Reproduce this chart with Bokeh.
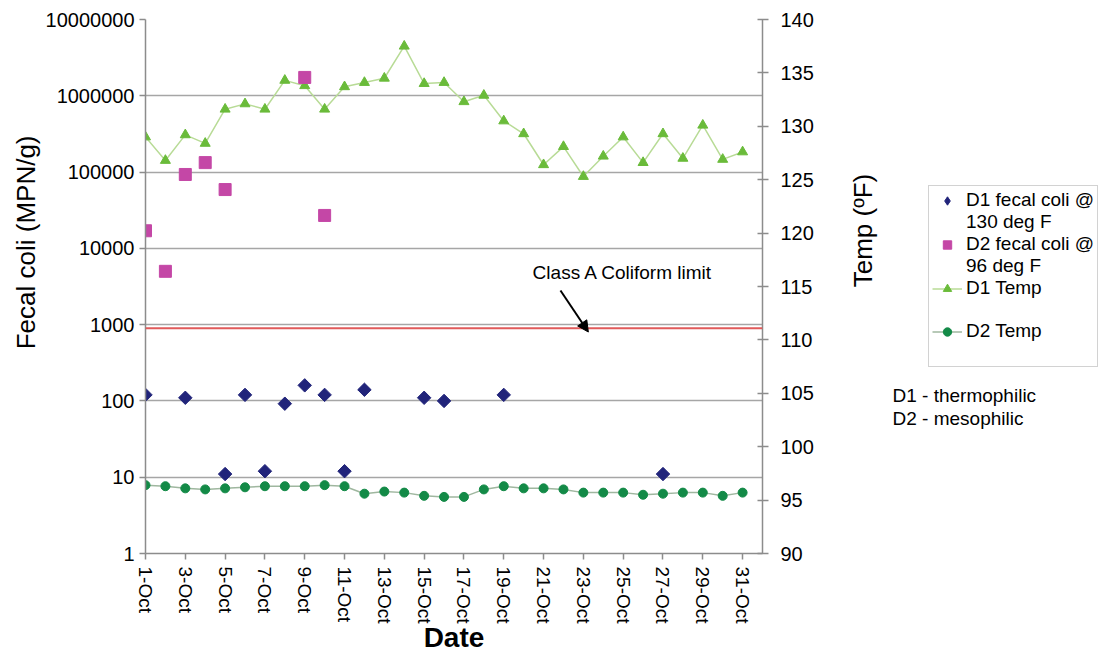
import math
from bokeh.plotting import figure
from bokeh.layouts import row
from bokeh.models import (Range1d, LinearAxis, LinearScale, FixedTicker, NumeralTickFormatter,
                          Span, Label, Arrow, NormalHead, Legend, LegendItem, Title)
from bokeh.embed import file_html
from bokeh.resources import INLINE

# ---------------- data ----------------
days = list(range(1, 32))
date_ticks = list(range(1, 32, 2))
date_labels = [f"{d}-Oct" for d in date_ticks]

d1_fecal_days = [1, 3, 5, 6, 7, 8, 9, 10, 11, 12, 15, 16, 19, 27]
d1_fecal = [120, 110, 11, 120, 12, 92, 160, 120, 12, 140, 110, 100, 120, 11]

d2_fecal_days = [1, 2, 3, 4, 5, 9, 10]
d2_fecal = [17000, 5000, 93000, 133000, 59000, 1740000, 27000]

d1_temp = [129.0, 126.8, 129.2, 128.4, 131.6, 132.1, 131.6, 134.3, 133.8, 131.6,
           133.7, 134.1, 134.5, 137.5, 134.0, 134.1, 132.3, 132.9, 130.5, 129.3,
           126.4, 128.1, 125.3, 127.2, 129.0, 126.6, 129.3, 127.0, 130.1, 126.9, 127.6]
d2_temp = [96.4, 96.3, 96.1, 96.0, 96.1, 96.2, 96.3, 96.3, 96.3, 96.4,
           96.3, 95.6, 95.8, 95.7, 95.4, 95.3, 95.3, 96.0, 96.3, 96.1,
           96.1, 96.0, 95.7, 95.7, 95.7, 95.5, 95.6, 95.7, 95.7, 95.4, 95.7]

fecal_ticks = [1, 10, 100, 1000, 10000, 100000, 1000000, 10000000]
temp_ticks = [90, 95, 100, 105, 110, 115, 120, 125, 130, 135, 140]
class_a_limit = 900

FONT = "Liberation Sans"
AX = "#8c8c8c"
C_D1F = "#21247a"
C_D2F = "#c447a6"
C_D1T_L, C_D1T_M = "#b8db96", "#6abb3a"
C_D2T_L, C_D2T_M = "#9fb79f", "#138a47"

# ---------------- main chart ----------------
p = figure(width=840, height=655, output_backend="svg", toolbar_location=None,
           x_range=Range1d(1, 32), y_range=Range1d(1, 1e7), y_axis_type="log",
           min_border_left=145, min_border_right=78, min_border_top=19,
           min_border_bottom=102)
p.outline_line_color = None
p.border_fill_color = "white"

p.extra_y_ranges = {"temp": Range1d(90, 140)}
p.extra_y_scales = {"temp": LinearScale()}

xa = p.xaxis[0]
xa.ticker = FixedTicker(ticks=date_ticks, minor_ticks=[])
xa.major_label_overrides = {t: l for t, l in zip(date_ticks, date_labels)}
xa.major_label_orientation = "vertical"
xa.axis_label = "Date"
xa.axis_label_text_font = FONT
xa.axis_label_text_font_style = "bold"
xa.axis_label_text_font_size = "28px"
xa.axis_label_text_color = "black"
xa.axis_label_standoff = -5
xa.major_label_text_font = FONT
xa.major_label_text_font_size = "19px"
xa.major_label_text_color = "black"
xa.major_label_standoff = 7

ya = p.yaxis[0]
ya.ticker = FixedTicker(ticks=fecal_ticks, minor_ticks=[])
ya.formatter = NumeralTickFormatter(format="0")
ya.major_label_text_font = FONT
ya.major_label_text_font_size = "20px"
ya.major_label_text_color = "black"
ya.major_label_standoff = 5

ra = LinearAxis(y_range_name="temp", ticker=FixedTicker(ticks=temp_ticks, minor_ticks=[]))
ra.major_label_text_font = FONT
ra.major_label_text_font_size = "20px"
ra.major_label_text_color = "black"
ra.major_label_standoff = 12
p.add_layout(ra, "right")

for ax in (xa, ya, ra):
    ax.axis_line_color = AX
    ax.axis_line_width = 1.5
    ax.major_tick_line_color = AX
    ax.major_tick_line_width = 1.5
    ax.minor_tick_line_color = None
    ax.major_tick_in = 0
    ax.major_tick_out = 6
ra.major_tick_in = 5

p.add_layout(Title(text="Fecal coli (MPN/g)", align="right", offset=116,
                   text_font=FONT, text_font_size="26px", text_font_style="normal",
                   text_color="black", standoff=4), "left")

p.xgrid.grid_line_color = None
p.ygrid.grid_line_color = "#a6a6a6"
p.ygrid.grid_line_width = 1.3
p.ygrid.ticker = FixedTicker(ticks=fecal_ticks)

p.add_layout(Span(location=class_a_limit, dimension="width", line_color="#e05a5a",
                  line_width=2))
p.add_layout(Label(x=20.45, y=4800, text="Class A Coliform limit", text_font=FONT,
                   text_font_size="19px", text_baseline="middle", text_color="black"))
p.add_layout(Arrow(x_start=21.85, y_start=2800, x_end=23.25, y_end=800,
                   line_color="black", line_width=2,
                   end=NormalHead(size=11, fill_color="black", line_color="black")))

p.line(days, d1_temp, y_range_name="temp", line_color=C_D1T_L, line_width=1.5)
p.scatter(days, d1_temp, y_range_name="temp", marker="triangle", size=10,
          fill_color=C_D1T_M, line_color=C_D1T_M)
p.line(days, d2_temp, y_range_name="temp", line_color=C_D2T_L, line_width=1.5)
p.scatter(days, d2_temp, y_range_name="temp", marker="circle", size=9,
          fill_color=C_D2T_M, line_color=C_D2T_M)
p.scatter(d2_fecal_days, d2_fecal, marker="square", size=12,
          fill_color=C_D2F, line_color=C_D2F)
p.scatter(d1_fecal_days, d1_fecal, marker="square", angle=math.pi / 4, size=9.5,
          fill_color=C_D1F, line_color=C_D1F)

# ---------------- side panel: right title + legend + notes ----------------
# its frame is aligned with the main frame (y 19..553), so these ranges map 1:1 to pixels
q = figure(width=258, height=655, output_backend="svg", toolbar_location=None,
           x_range=Range1d(0, 258), y_range=Range1d(553, 19),
           x_axis_location=None, y_axis_location=None,
           min_border=0, min_border_left=0, min_border_right=0,
           min_border_top=19, min_border_bottom=102)
q.outline_line_color = None
q.grid.visible = False
q.border_fill_color = "white"

q.add_layout(Label(x=22, y=230, text="Temp (ºF)", angle=math.pi / 2, text_align="center",
                   text_baseline="middle", text_font=FONT, text_font_size="26px",
                   text_color="black"))

off = [-1000, -999]
k_d1f = q.scatter(off[:1], off[:1], marker="diamond", size=9,
                  fill_color=C_D1F, line_color=C_D1F)
k_d2f = q.scatter(off[:1], off[:1], marker="square", size=8, fill_color=C_D2F, line_color=C_D2F)
k_d1t_l = q.line(off, off, line_color=C_D1T_L, line_width=1.5)
k_d1t_m = q.scatter(off[:1], off[:1], marker="triangle", size=8, fill_color=C_D1T_M,
                    line_color=C_D1T_M)
k_d2t_l = q.line(off, off, line_color=C_D2T_L, line_width=1.5)
k_d2t_m = q.scatter(off[:1], off[:1], marker="circle", size=8, fill_color=C_D2T_M,
                    line_color=C_D2T_M)
k_blank = q.scatter(off[:1], off[:1], marker="circle", size=1, fill_alpha=0, line_alpha=0)

items = [
    LegendItem(label="D1 fecal coli @", renderers=[k_d1f]),
    LegendItem(label="130 deg F", renderers=[k_blank]),
    LegendItem(label="D2 fecal coli @", renderers=[k_d2f]),
    LegendItem(label="96 deg F", renderers=[k_blank]),
    LegendItem(label="D1 Temp", renderers=[k_d1t_l, k_d1t_m]),
    LegendItem(label=" ", renderers=[k_blank]),
    LegendItem(label="D2 Temp", renderers=[k_d2t_l, k_d2t_m]),
    LegendItem(label=" ", renderers=[k_blank]),
]
legend = Legend(items=items, location=(88, 186), orientation="vertical",
                label_text_font=FONT, label_text_font_size="19px", label_text_color="black",
                label_height=21, glyph_height=21, glyph_width=30, spacing=0,
                padding=3, margin=0, label_standoff=4,
                border_line_color="#a6a6a6", border_line_width=1.5,
                background_fill_color="white", background_fill_alpha=1)
q.add_layout(legend)

for i, t in enumerate(["D1 - thermophilic", "D2 - mesophilic"]):
    q.add_layout(Label(x=52, y=395 + 23 * i, text=t, text_font=FONT, text_font_size="19px",
                       text_baseline="middle", text_color="black"))

layout = row(p, q, spacing=0)
open("out.html", "w").write(file_html(layout, INLINE))
